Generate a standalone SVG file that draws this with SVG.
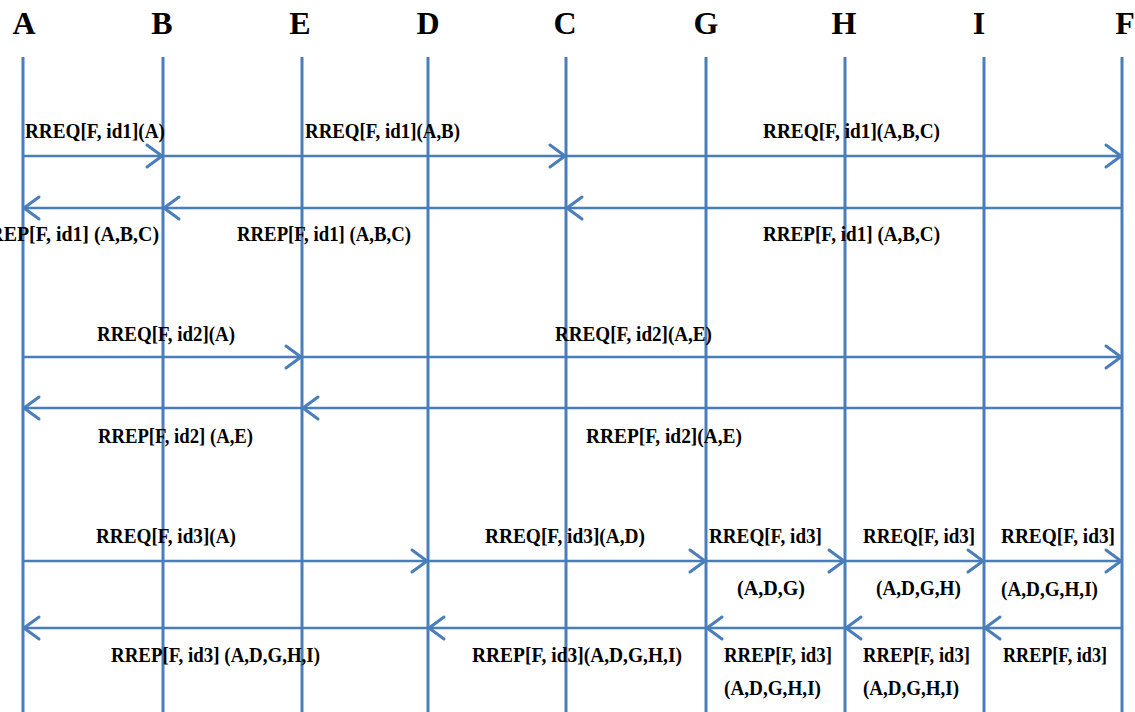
<svg xmlns="http://www.w3.org/2000/svg" width="1135" height="712" viewBox="0 0 1135 712">
<defs>
<marker id="ah" markerUnits="userSpaceOnUse" markerWidth="24" markerHeight="28" viewBox="-18 -14 24 28" refX="0" refY="0" orient="auto">
<path d="M -15 -11 L 0 0 L -15 11" fill="none" stroke="#4a7ebb" stroke-width="3" stroke-linecap="round" stroke-linejoin="round"/>
</marker>
</defs>
<style>
.hd{font-family:"Liberation Serif","Times New Roman",serif;font-weight:bold;font-size:32px;fill:#000;text-anchor:middle}
.lb{font-family:"Liberation Serif","Times New Roman",serif;font-weight:bold;font-size:20px;fill:#000}
.life{stroke:#4a7ebb;stroke-width:3;fill:none}
.msg{stroke:#4a7ebb;stroke-width:2.5;fill:none;marker-end:url(#ah)}
</style>
<rect width="1135" height="712" fill="#fff"/>
<g id="node-A"><line class="life" x1="23" y1="57" x2="23" y2="712"/><text class="hd" x="24" y="34">A</text></g>
<g id="node-B"><line class="life" x1="163" y1="57" x2="163" y2="712"/><text class="hd" x="162" y="34">B</text></g>
<g id="node-E"><line class="life" x1="302" y1="57" x2="302" y2="712"/><text class="hd" x="300" y="34">E</text></g>
<g id="node-D"><line class="life" x1="428" y1="57" x2="428" y2="712"/><text class="hd" x="428" y="34">D</text></g>
<g id="node-C"><line class="life" x1="566" y1="57" x2="566" y2="712"/><text class="hd" x="565" y="34">C</text></g>
<g id="node-G"><line class="life" x1="706" y1="57" x2="706" y2="712"/><text class="hd" x="706" y="34">G</text></g>
<g id="node-H"><line class="life" x1="845" y1="57" x2="845" y2="712"/><text class="hd" x="844" y="34">H</text></g>
<g id="node-I"><line class="life" x1="984" y1="57" x2="984" y2="712"/><text class="hd" x="979" y="34">I</text></g>
<g id="node-F"><line class="life" x1="1122" y1="57" x2="1122" y2="712"/><text class="hd" x="1125" y="34">F</text></g>
<g id="connectors">
<line class="msg" x1="23" y1="156" x2="162" y2="156"/>
<line class="msg" x1="163" y1="156" x2="565" y2="156"/>
<line class="msg" x1="566" y1="156" x2="1121" y2="156"/>
<line class="msg" x1="1122" y1="208" x2="567" y2="208"/>
<line class="msg" x1="566" y1="208" x2="164" y2="208"/>
<line class="msg" x1="163" y1="208" x2="24" y2="208"/>
<line class="msg" x1="23" y1="357" x2="301" y2="357"/>
<line class="msg" x1="302" y1="357" x2="1121" y2="357"/>
<line class="msg" x1="1122" y1="408" x2="303" y2="408"/>
<line class="msg" x1="302" y1="408" x2="24" y2="408"/>
<line class="msg" x1="23" y1="561" x2="427" y2="561"/>
<line class="msg" x1="428" y1="561" x2="705" y2="561"/>
<line class="msg" x1="706" y1="561" x2="844" y2="561"/>
<line class="msg" x1="845" y1="561" x2="983" y2="561"/>
<line class="msg" x1="984" y1="561" x2="1121" y2="561"/>
<line class="msg" x1="1122" y1="628" x2="985" y2="628"/>
<line class="msg" x1="984" y1="628" x2="846" y2="628"/>
<line class="msg" x1="845" y1="628" x2="707" y2="628"/>
<line class="msg" x1="706" y1="628" x2="429" y2="628"/>
<line class="msg" x1="428" y1="628" x2="24" y2="628"/>
</g>
<g id="labels">
<text class="lb" x="25" y="138" textLength="140" lengthAdjust="spacingAndGlyphs">RREQ[F, id1](A)</text>
<text class="lb" x="305" y="138" textLength="155" lengthAdjust="spacingAndGlyphs">RREQ[F, id1](A,B)</text>
<text class="lb" x="763" y="138" textLength="177" lengthAdjust="spacingAndGlyphs">RREQ[F, id1](A,B,C)</text>
<text class="lb" x="-25" y="241" textLength="184" lengthAdjust="spacingAndGlyphs">RREP[F, id1] (A,B,C)</text>
<text class="lb" x="237" y="241" textLength="174" lengthAdjust="spacingAndGlyphs">RREP[F, id1] (A,B,C)</text>
<text class="lb" x="763" y="241" textLength="177" lengthAdjust="spacingAndGlyphs">RREP[F, id1] (A,B,C)</text>
<text class="lb" x="97" y="341" textLength="138" lengthAdjust="spacingAndGlyphs">RREQ[F, id2](A)</text>
<text class="lb" x="555" y="341" textLength="157" lengthAdjust="spacingAndGlyphs">RREQ[F, id2](A,E)</text>
<text class="lb" x="98" y="443" textLength="155" lengthAdjust="spacingAndGlyphs">RREP[F, id2] (A,E)</text>
<text class="lb" x="586" y="443" textLength="156" lengthAdjust="spacingAndGlyphs">RREP[F, id2](A,E)</text>
<text class="lb" x="96" y="543" textLength="140" lengthAdjust="spacingAndGlyphs">RREQ[F, id3](A)</text>
<text class="lb" x="485" y="543" textLength="160" lengthAdjust="spacingAndGlyphs">RREQ[F, id3](A,D)</text>
<text class="lb" x="709" y="543" textLength="113" lengthAdjust="spacingAndGlyphs">RREQ[F, id3]</text>
<text class="lb" x="737" y="595" textLength="68" lengthAdjust="spacingAndGlyphs">(A,D,G)</text>
<text class="lb" x="863" y="543" textLength="112" lengthAdjust="spacingAndGlyphs">RREQ[F, id3]</text>
<text class="lb" x="876" y="595" textLength="85" lengthAdjust="spacingAndGlyphs">(A,D,G,H)</text>
<text class="lb" x="1001" y="543" textLength="114" lengthAdjust="spacingAndGlyphs">RREQ[F, id3]</text>
<text class="lb" x="1001" y="596" textLength="97" lengthAdjust="spacingAndGlyphs">(A,D,G,H,I)</text>
<text class="lb" x="111" y="662" textLength="209" lengthAdjust="spacingAndGlyphs">RREP[F, id3] (A,D,G,H,I)</text>
<text class="lb" x="472" y="662" textLength="210" lengthAdjust="spacingAndGlyphs">RREP[F, id3](A,D,G,H,I)</text>
<text class="lb" x="724" y="662" textLength="108" lengthAdjust="spacingAndGlyphs">RREP[F, id3]</text>
<text class="lb" x="724" y="695" textLength="97" lengthAdjust="spacingAndGlyphs">(A,D,G,H,I)</text>
<text class="lb" x="863" y="662" textLength="107" lengthAdjust="spacingAndGlyphs">RREP[F, id3]</text>
<text class="lb" x="863" y="695" textLength="96" lengthAdjust="spacingAndGlyphs">(A,D,G,H,I)</text>
<text class="lb" x="1003" y="662" textLength="104" lengthAdjust="spacingAndGlyphs">RREP[F, id3]</text>
</g>
</svg>
